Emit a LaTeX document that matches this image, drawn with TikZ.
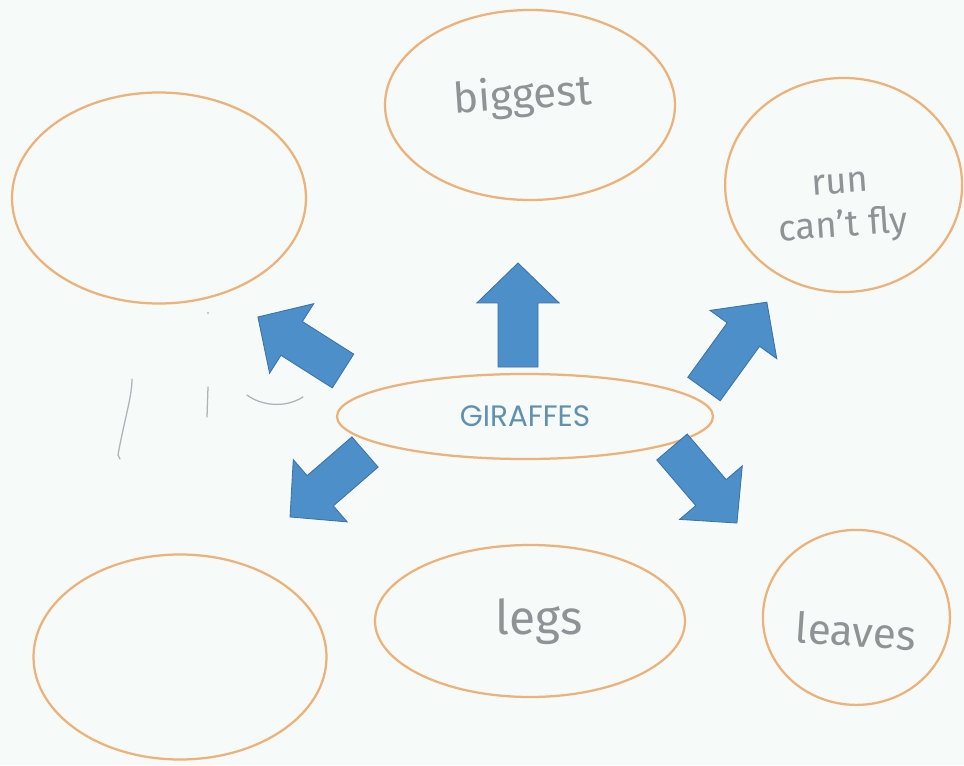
\documentclass[tikz,border=0pt]{standalone}
\usepackage{fontspec}
\setsansfont{Fira Sans}
\newfontfamily\titlefont{Poppins}
\usetikzlibrary{shapes.geometric}

\definecolor{paper}{RGB}{246,250,248}
\definecolor{rim}{RGB}{236,178,122}
\definecolor{arrowblue}{RGB}{77,143,201}
\definecolor{arrowedge}{RGB}{60,114,170}
\definecolor{pencil}{RGB}{142,147,150}
\definecolor{titleblue}{RGB}{96,146,176}

\begin{document}
\begin{tikzpicture}[bubble/.style={ellipse, draw=rim, line width=1.6pt, inner sep=0pt},
		hand/.style={text=pencil, font=\sffamily\fontsize{30}{34}\selectfont},
		scribble/.style={draw=pencil!70, line width=0.9pt, line cap=round},
		blockarrow/.style={fill=arrowblue, draw=arrowedge, line width=0.6pt, line join=miter}]
			\fill[paper] (0,0) rectangle (24.1,19.125);
			% the seven bubbles
			\node[bubble, minimum width=7.35cm, minimum height=5.275cm] (blankone) at (3.975,14.175) {};
			\node[bubble, minimum width=7.25cm, minimum height=4.75cm] (biggest) at (13.25,16.5) {};
			\node[bubble, minimum width=5.925cm, minimum height=5.35cm] (runfly) at (21.09,14.5) {};
			\node[bubble, minimum width=9.4cm, minimum height=2.125cm] (giraffes) at (13.125,8.7125) {};
			\node[bubble, minimum width=7.325cm, minimum height=5.125cm] (blanktwo) at (4.5,2.7) {};
			\node[bubble, minimum width=7.75cm, minimum height=3.8cm] (legs) at (13.25,3.6) {};
			\node[bubble, minimum width=4.675cm, minimum height=4.375cm] (leaves) at (21.41,3.69) {};
			% block arrows going out from the middle
			\foreach \x/\y/\a/\l in {12.95/9.95/90/2.6, 8.575/9.85/147.6/2.52, 9.125/7.825/220.9/2.48, 17.6/9.4/54.1/2.68, 16.8/7.95/-49.5/2.5}
				{\filldraw[blockarrow, shift={(\x,\y)}, rotate=\a] (0,-0.5) -- (\l-1,-0.5) -- (\l-1,-1.03) -- (\l,0) -- (\l-1,1.03) -- (\l-1,0.5) -- (0,0.5) -- cycle;};
			% labels
			\node[text=titleblue, font=\titlefont\fontsize{21}{24}\selectfont] (title) at (giraffes) {GIRAFFES};
			\node[hand, rotate=4] (bigtext) at (13.075,16.7) {biggest};
			\node[hand, align=center, font=\sffamily\fontsize{26}{31}\selectfont, rotate=4] (flytext) at (21.05,13.9) {run\\can't fly};
			\node[hand, font=\sffamily\fontsize{34}{38}\selectfont] (legtext) at (13.475,3.575) {legs};
			\node[hand, rotate=-4] (leaftext) at (21.4,3.35) {leaves};
			% pencil marks on the left
			\draw[scribble] (3.3,9.65) .. controls (3.3,9.2) and (3.1,8.6) .. (2.95,7.75) -- (3.0,7.65);
			\draw[scribble] (5.2,9.45) -- (5.175,8.7);
			\draw[scribble] (6.175,9.25) .. controls (6.5,9.0) and (7.1,8.9) .. (7.575,9.2);
			\fill[pencil!60] (5.2,11.3) circle (0.03);
	\end{tikzpicture}
\end{document}
